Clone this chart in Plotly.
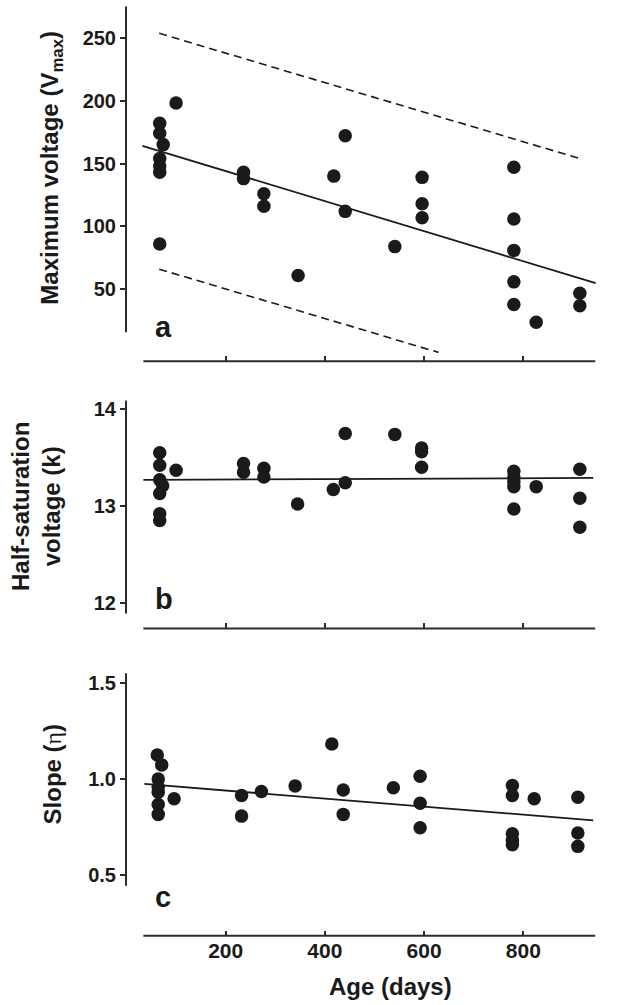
import plotly.graph_objects as go

W, H = 617, 1005

# ---------------- data ----------------
age_a = [67, 67, 74, 67, 67, 67, 67, 100, 236, 236, 277, 277, 346, 418, 441, 441,
         541, 596, 596, 596, 781, 781, 781, 781, 781, 826, 914, 914]
vmax = [182, 174, 165, 154, 148, 143, 86, 198, 143, 138, 126, 116, 61, 140, 172, 112,
        84, 139, 118, 107, 147, 106, 81, 56, 38, 24, 47, 37]

age_b = [67, 67, 67, 73, 67, 67, 67, 100, 236, 236, 277, 277, 345, 417, 441, 441,
         541, 595, 595, 595, 781, 781, 781, 781, 781, 826, 914, 914, 914]
half_sat = [13.55, 13.42, 13.27, 13.21, 13.13, 12.92, 12.85, 13.37, 13.44, 13.35, 13.39,
            13.30, 13.02, 13.17, 13.75, 13.24, 13.74, 13.60, 13.56, 13.40, 13.36, 13.30,
            13.25, 13.20, 12.97, 13.20, 13.38, 13.08, 12.78]

age_c = [62, 71, 64, 64, 64, 64, 64, 96, 232, 232, 272, 340, 414, 437, 437, 538,
         592, 592, 592, 778, 778, 778, 778, 778, 822, 910, 910, 910]
slope = [1.124, 1.073, 1.0, 0.957, 0.931, 0.867, 0.816, 0.897, 0.914, 0.807, 0.935,
         0.964, 1.181, 0.943, 0.816, 0.954, 1.014, 0.874, 0.747, 0.966, 0.914, 0.716,
         0.681, 0.659, 0.897, 0.905, 0.719, 0.65]

fit_a_x, fit_a_y = [32, 946], [164, 55]
upper_a_x, upper_a_y = [66, 916], [253.4, 153.7]
lower_a_x, lower_a_y = [66, 629], [66.1, 0]
fit_b_x, fit_b_y = [34, 941], [13.27, 13.29]
fit_c_x, fit_c_y = [36, 941], [0.974, 0.785]

x_ticks = [200, 400, 600, 800]
ticks_a = [50, 100, 150, 200, 250]
ticks_b = [12, 13, 14]
ticks_c = [0.5, 1.0, 1.5]
ticktext_c = ["0.5", "1.0", "1.5"]

# ---------------- styling ----------------
FONT = "Liberation Sans, Arial, Helvetica, sans-serif"
INK = "#1a1a1a"
AX = "#2b2b2b"


def px_x(p):
    return p / W


def px_y(p):
    return 1 - p / H


x_dom = [px_x(126), px_x(596)]
x_rng = [-1.0, 946.6]

panels = [
    # (suffix, domain px bottom, top, y range, axis line extent, ticks, ticktext)
    ("", 360, 4, [-7.07, 275.1], [16, 274.6], ticks_a, None),
    ("2", 627.7, 399, [11.735, 14.093], [11.89, 14.09], ticks_b, None),
    ("3", 935.7, 672, [0.1855, 1.5518], [0.445, 1.549], ticks_c, ticktext_c),
]

fig = go.Figure()

marker = dict(size=13.5, color=INK, line=dict(width=0))
line_solid = dict(color=INK, width=1.8)

# panel a
fig.add_trace(go.Scatter(x=upper_a_x, y=upper_a_y, mode="lines", xaxis="x", yaxis="y",
                         line=dict(color=INK, width=1.6, dash="8px,5px"), cliponaxis=False))
fig.add_trace(go.Scatter(x=lower_a_x, y=lower_a_y, mode="lines", xaxis="x", yaxis="y",
                         line=dict(color=INK, width=1.6, dash="8px,5px"), cliponaxis=False))
fig.add_trace(go.Scatter(x=fit_a_x, y=fit_a_y, mode="lines", xaxis="x", yaxis="y",
                         line=line_solid, cliponaxis=False))
fig.add_trace(go.Scatter(x=age_a, y=vmax, mode="markers", xaxis="x", yaxis="y",
                         marker=marker, cliponaxis=False))
# panel b
fig.add_trace(go.Scatter(x=fit_b_x, y=fit_b_y, mode="lines", xaxis="x2", yaxis="y2",
                         line=line_solid, cliponaxis=False))
fig.add_trace(go.Scatter(x=age_b, y=half_sat, mode="markers", xaxis="x2", yaxis="y2",
                         marker=marker, cliponaxis=False))
# panel c
fig.add_trace(go.Scatter(x=fit_c_x, y=fit_c_y, mode="lines", xaxis="x3", yaxis="y3",
                         line=line_solid, cliponaxis=False))
fig.add_trace(go.Scatter(x=age_c, y=slope, mode="markers", xaxis="x3", yaxis="y3",
                         marker=marker, cliponaxis=False))

layout = dict(
    width=W, height=H, margin=dict(l=0, r=0, t=0, b=0),
    paper_bgcolor="white", plot_bgcolor="white", showlegend=False,
    font=dict(family=FONT, color=INK),
)

shapes = []
for i, (suf, pb, pt, yr, yline, yt, ytt) in enumerate(panels):
    xa = "xaxis" + suf
    ya = "yaxis" + suf
    xr = "x" + suf
    yref = "y" + suf
    layout[xa] = dict(
        domain=x_dom, range=x_rng, anchor=yref, showline=False, showgrid=False,
        zeroline=False, ticks="inside", ticklen=5, tickwidth=2, tickcolor=AX,
        tickvals=x_ticks, showticklabels=(i == 2),
        tickfont=dict(family=FONT, size=21, color=INK, weight="bold"),
    )
    ydict = dict(
        domain=[px_y(pb), px_y(pt)], range=yr, anchor=xr, showline=False,
        showgrid=False, zeroline=False, ticks="outside", ticklen=5, tickwidth=2,
        tickcolor=AX, tickvals=yt,
        tickfont=dict(family=FONT, size=20, color=INK, weight="bold"),
    )
    if ytt is not None:
        ydict["ticktext"] = ytt
    layout[ya] = ydict
    # x axis line (starts right of the y axis, as in the reference)
    shapes.append(dict(type="line", xref=xr, yref=yref + " domain", x0=34, x1=945,
                       y0=0, y1=0, line=dict(color=AX, width=2)))
    # y axis line
    shapes.append(dict(type="line", xref=xr + " domain", yref=yref, x0=0, x1=0,
                       y0=yline[0], y1=yline[1], line=dict(color=AX, width=2)))

layout["shapes"] = shapes

title_font = dict(family=FONT, size=24, color=INK, weight="bold")
letter_font = dict(family=FONT, size=29, color=INK, weight="bold")
annotations = [
    dict(text="Maximum voltage (V<sub>max</sub>)", textangle=-90, x=px_x(52), y=px_y(166),
         xref="paper", yref="paper", showarrow=False, xanchor="center", yanchor="middle",
         font=title_font),
    dict(text="Half-saturation<br>voltage (k)", textangle=-90, x=px_x(36), y=px_y(506),
         xref="paper", yref="paper", showarrow=False, xanchor="center", yanchor="middle",
         font=title_font),
    dict(text="Slope (<span style='font-family:Liberation Serif, serif;font-weight:normal'>η</span>)",
         textangle=-90, x=px_x(52), y=px_y(774),
         xref="paper", yref="paper", showarrow=False, xanchor="center", yanchor="middle",
         font=title_font),
    dict(text="Age (days)", x=px_x(390), y=px_y(986), xref="paper", yref="paper",
         showarrow=False, xanchor="center", yanchor="middle", font=title_font),
    dict(text="a", x=px_x(163), y=px_y(326), xref="paper", yref="paper", showarrow=False,
         xanchor="center", yanchor="middle", font=letter_font),
    dict(text="b", x=px_x(164), y=px_y(598), xref="paper", yref="paper", showarrow=False,
         xanchor="center", yanchor="middle", font=letter_font),
    dict(text="c", x=px_x(163), y=px_y(897), xref="paper", yref="paper", showarrow=False,
         xanchor="center", yanchor="middle", font=letter_font),
]
layout["annotations"] = annotations

fig.update_layout(**layout)
fig.write_html(
    "out.html",
    config={"displayModeBar": False, "staticPlot": True},
    post_script="document.body.style.margin='0';document.body.style.overflow='hidden';",
)
